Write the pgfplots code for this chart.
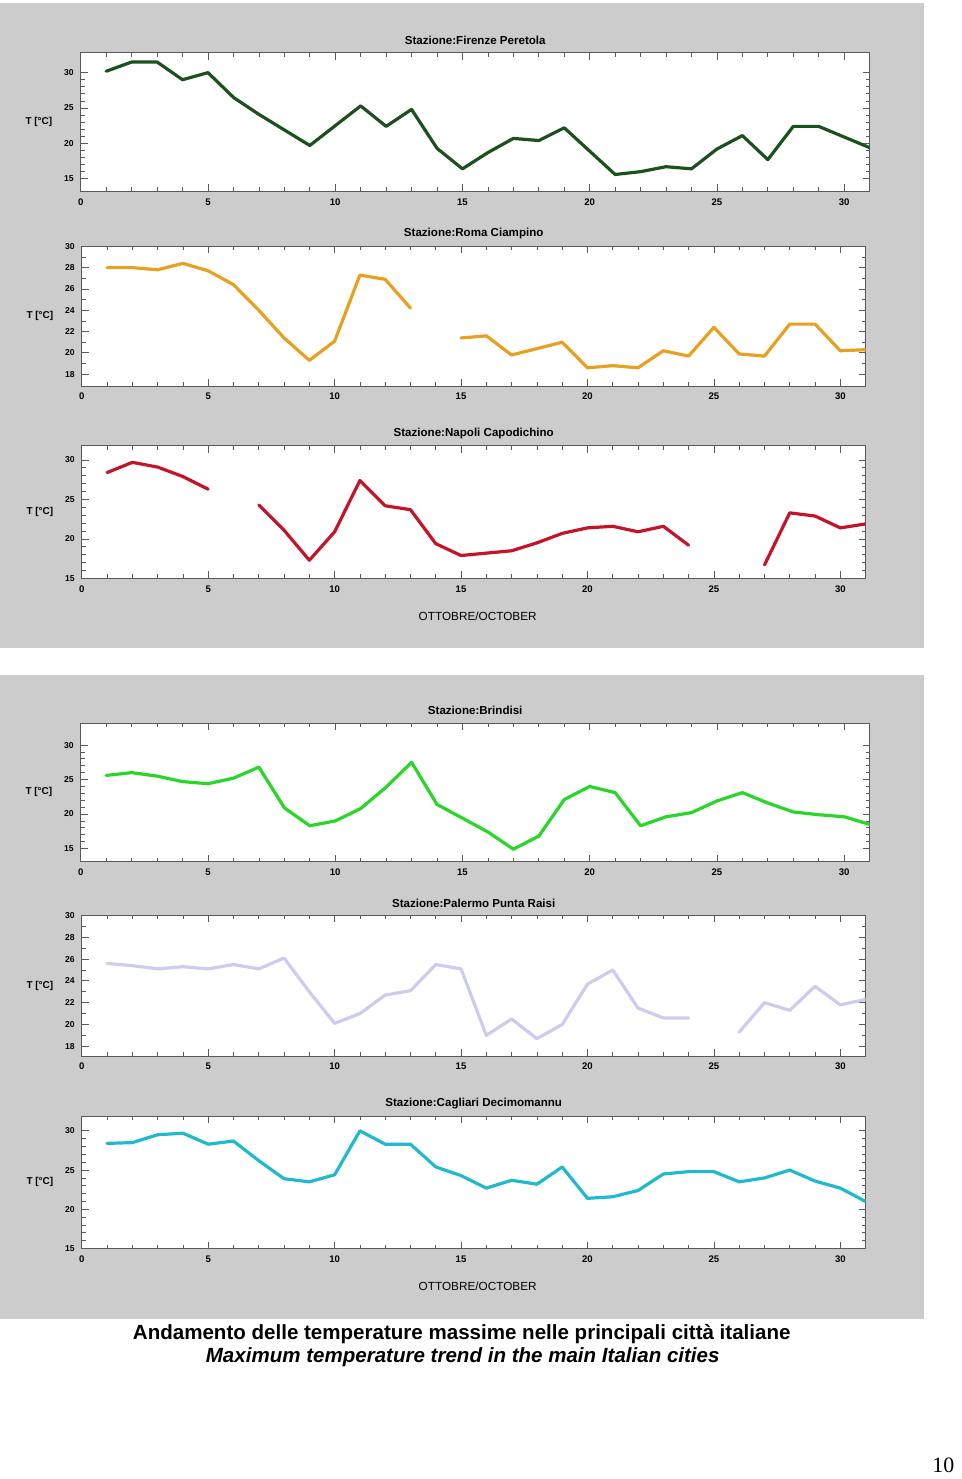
\documentclass[border=0pt]{standalone}
\usepackage{fontspec}
\setmainfont{Liberation Sans}
\newfontfamily\serifpage{Liberation Serif}
\usepackage{pgfplots}
\pgfplotsset{compat=1.18}

\definecolor{panelgray}{RGB}{204,204,204}
\definecolor{firenzec}{RGB}{28,80,28}
\definecolor{romac}{RGB}{232,160,32}
\definecolor{napolic}{RGB}{195,20,40}
\definecolor{brindisic}{RGB}{40,215,40}
\definecolor{palermoc}{RGB}{204,204,240}
\definecolor{cagliaric}{RGB}{32,185,205}

\pgfplotsset{
  station/.style={
    scale only axis,
    xmin=0, xmax=31,
    xtick={0,5,...,30},
    minor x tick num=4,
    axis background/.style={fill=white},
    axis line style={draw=black!65},
    every tick/.style={black!65},
    major tick length=3.5pt,
    minor tick length=2pt,
    tick align=inside,
    /pgf/number format/assume math mode=true,
    xticklabel style={font=\bfseries\fontsize{4.8}{6}\selectfont},
    yticklabel style={font=\bfseries\fontsize{4.3}{5}\selectfont},
    every axis title/.style={font=\bfseries\fontsize{5.8}{7}\selectfont, at={(0.5,1)}, anchor=center, yshift=6.25pt},
    ylabel={T [°C]},
    every axis y label/.style={at={(axis description cs:0,0.5)}, anchor=center, xshift=-21pt, font=\bfseries\fontsize{5}{6}\selectfont},
    every axis x label/.style={at={(axis description cs:0.5,0)}, anchor=center, yshift=-19pt, xshift=2pt, font=\fontsize{5.9}{7}\selectfont},
    unbounded coords=jump,
    every axis plot/.append style={line width=1.6pt, line join=round, line cap=round},
  }
}

\begin{document}
\begin{tikzpicture}[x=0.5pt,y=-0.5pt]
\path (0,0) rectangle (960,1479);
\fill[panelgray] (0,3) rectangle (927,650);
\fill[panelgray] (0,677) rectangle (927,1323);

% Firenze
\begin{axis}[station, at={(40.5pt,-26.5pt)}, anchor=north west, width=395.5pt, height=69.5pt,
  ymin=13.2, ymax=32.8, ytick={15,20,25,30}, minor y tick num=4,
  title={Stazione:Firenze Peretola}]
\addplot[firenzec] coordinates {(1,30.2)(2,31.5)(3,31.5)(4,29.0)(5,30.0)(6,26.5)(7,24.1)(8,21.9)(9,19.7)(10,22.5)(11,25.3)(12,22.4)(13,24.8)(14,19.3)(15,16.4)(16,18.7)(17,20.7)(18,20.4)(19,22.2)(20,18.9)(21,15.6)(22,16.0)(23,16.7)(24,16.4)(25,19.2)(26,21.1)(27,17.7)(28,22.4)(29,22.4)(30,20.9)(31,19.4)};
\end{axis}

% Roma
\begin{axis}[station, at={(41pt,-123.5pt)}, anchor=north west, width=393pt, height=70pt,
  ymin=16.9, ymax=30, ytick={18,20,...,30}, minor y tick num=1,
  title={Stazione:Roma Ciampino}]
\addplot[romac] coordinates {(1,28.0)(2,28.0)(3,27.8)(4,28.4)(5,27.7)(6,26.4)(7,24.0)(8,21.4)(9,19.3)(10,21.1)(11,27.3)(12,26.9)(13,24.2)(14,nan)(15,21.4)(16,21.6)(17,19.8)(18,20.4)(19,21.0)(20,18.6)(21,18.8)(22,18.6)(23,20.2)(24,19.7)(25,22.4)(26,19.9)(27,19.7)(28,22.7)(29,22.7)(30,20.2)(31,20.3)};
\end{axis}

% Napoli
\begin{axis}[station, at={(41pt,-223.5pt)}, anchor=north west, width=393pt, height=66.5pt,
  ymin=15, ymax=31.8, ytick={15,20,25,30}, minor y tick num=4,
  title={Stazione:Napoli Capodichino}, xlabel={OTTOBRE/OCTOBER}]
\addplot[napolic] coordinates {(1,28.4)(2,29.7)(3,29.1)(4,27.9)(5,26.3)(6,nan)(7,24.3)(8,21.1)(9,17.3)(10,20.9)(11,27.4)(12,24.2)(13,23.7)(14,19.4)(15,17.9)(16,18.2)(17,18.5)(18,19.5)(19,20.7)(20,21.4)(21,21.6)(22,20.9)(23,21.6)(24,19.2)(25,nan)(26,nan)(27,16.7)(28,23.3)(29,22.9)(30,21.4)(31,21.9)};
\end{axis}

% Brindisi
\begin{axis}[station, at={(40.5pt,-362.5pt)}, anchor=north west, width=395.5pt, height=69.5pt,
  ymin=13.1, ymax=33.2, ytick={15,20,25,30}, minor y tick num=4,
  title={Stazione:Brindisi}]
\addplot[brindisic] coordinates {(1,25.6)(2,26.0)(3,25.5)(4,24.7)(5,24.4)(6,25.2)(7,26.8)(8,20.9)(9,18.3)(10,19.0)(11,20.8)(12,23.9)(13,27.5)(14,21.4)(15,19.4)(16,17.4)(17,14.9)(18,16.8)(19,22.1)(20,24.0)(21,23.1)(22,18.3)(23,19.6)(24,20.2)(25,21.9)(26,23.1)(27,21.6)(28,20.3)(29,19.9)(30,19.6)(31,18.5)};
\end{axis}

% Palermo
\begin{axis}[station, at={(41pt,-459pt)}, anchor=north west, width=393pt, height=70.5pt,
  ymin=17.1, ymax=30, ytick={18,20,...,30}, minor y tick num=1,
  title={Stazione:Palermo Punta Raisi}]
\addplot[palermoc] coordinates {(1,25.6)(2,25.4)(3,25.1)(4,25.3)(5,25.1)(6,25.5)(7,25.1)(8,26.1)(9,23.0)(10,20.1)(11,21.0)(12,22.7)(13,23.1)(14,25.5)(15,25.1)(16,19.0)(17,20.5)(18,18.7)(19,20.0)(20,23.7)(21,25.0)(22,21.5)(23,20.6)(24,20.6)(25,nan)(26,19.3)(27,22.0)(28,21.3)(29,23.5)(30,21.8)(31,22.3)};
\end{axis}

% Cagliari
\begin{axis}[station, at={(41pt,-559.5pt)}, anchor=north west, width=393pt, height=66.5pt,
  ymin=15, ymax=31.9, ytick={15,20,25,30}, minor y tick num=4,
  title={Stazione:Cagliari Decimomannu}, xlabel={OTTOBRE/OCTOBER}]
\addplot[cagliaric] coordinates {(1,28.4)(2,28.5)(3,29.5)(4,29.7)(5,28.3)(6,28.7)(7,26.2)(8,23.9)(9,23.5)(10,24.4)(11,30.0)(12,28.3)(13,28.3)(14,25.4)(15,24.3)(16,22.7)(17,23.7)(18,23.2)(19,25.4)(20,21.4)(21,21.6)(22,22.4)(23,24.5)(24,24.8)(25,24.8)(26,23.5)(27,24.0)(28,25.0)(29,23.6)(30,22.7)(31,21.0)};
\end{axis}

\node[font=\bfseries\fontsize{10.3}{12}\selectfont] at (463,1338) {Andamento delle temperature massime nelle principali città italiane};
\node[font=\bfseries\itshape\fontsize{10.3}{12}\selectfont] at (464,1361) {Maximum temperature trend in the main Italian cities};
\node[font=\serifpage\fontsize{11}{13}\selectfont] at (946,1469) {10};
\end{tikzpicture}
\end{document}
